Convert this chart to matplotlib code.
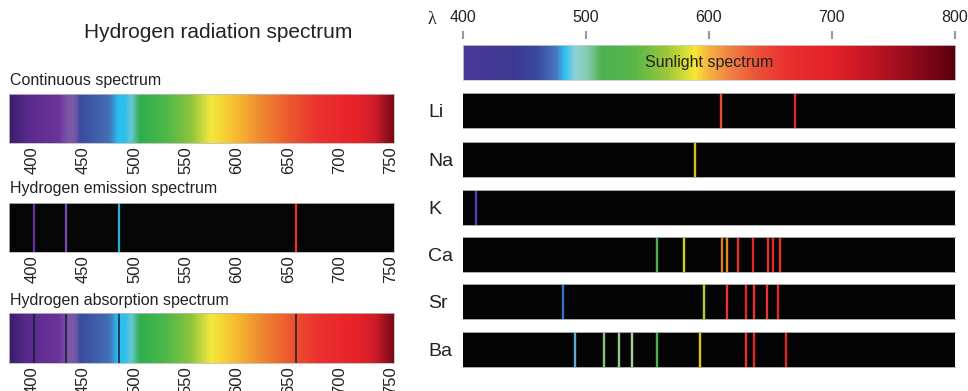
import matplotlib
matplotlib.use("Agg")
import matplotlib.pyplot as plt
from matplotlib.colors import LinearSegmentedColormap
import numpy as np

plt.rcParams['font.family'] = ['Liberation Sans', 'DejaVu Sans']

# ---------------- data ----------------
title_left = "Hydrogen radiation spectrum"
left_labels = ["Continuous spectrum", "Hydrogen emission spectrum", "Hydrogen absorption spectrum"]
left_ticks = [400, 450, 500, 550, 600, 650, 700, 750]
left_range = (378, 753)

# continuous spectrum colour stops (nm, colour)
cont_nm = [378, 395, 425, 436, 442, 447, 475, 484, 491, 497, 505, 530, 555, 575, 588, 602, 622, 650, 680, 718, 735, 753]
cont_col = ["#3a1f6e", "#5a2a8e", "#6b3399", "#7b5aa8", "#7856a6", "#3b4a9e", "#4470b5", "#28c0f0",
            "#30c0ec", "#6ac8d0", "#2fae4f", "#4cb848", "#8cc43f", "#f2e93a", "#f6d034", "#f7b632",
            "#f08c30", "#ec5b2e", "#ea3030", "#e82228", "#d01c28", "#7a0a16"]

# hydrogen lines
h_lines = [402, 433, 485, 657]
h_colors = ["#6a2fa0", "#7a4ab0", "#28b0d0", "#e8302c"]
absorb_color = "#1a1a2a"

# right panel
right_ticks = [400, 500, 600, 700, 800]
right_range = (400, 800)
sun_nm = [400, 440, 460, 475, 482, 490, 500, 512, 540, 565, 588, 600, 620, 640, 665, 700, 730, 760, 800]
sun_col = ["#4a3a9a", "#3c3890", "#3a48a0", "#4a78c0", "#2ec0f0", "#8fd2d6", "#86ccb0", "#4cb050",
           "#5ab848", "#9cc63c", "#f6e834", "#f4b040", "#ee7a44", "#ec5038", "#e83030", "#e22228",
           "#c41624", "#9a0c1c", "#5a0010"]

elements = ["Li", "Na", "K", "Ca", "Sr", "Ba"]
li_nm = [610, 670]
li_col = ["#e8502a", "#d82a2a"]
na_nm = [589]
na_col = ["#d4c020"]
k_nm = [411]
k_col = ["#4a40b8"]
ca_nm = [558, 580, 611, 615, 624, 636, 648, 652.5, 658]
ca_col = ["#4caf50", "#c8d020", "#e07a20", "#e08a24", "#e83030", "#e02828", "#e83030", "#e02828", "#e83030"]
sr_nm = [482, 596.5, 614.5, 630.5, 637, 647, 656]
sr_col = ["#3a70c0", "#c0c830", "#f03030", "#e02828", "#e83030", "#f03030", "#e02828"]
ba_nm = [491, 515, 527, 538, 558, 592.5, 630.5, 637, 662.6]
ba_col = ["#60a8d0", "#88c080", "#90c890", "#a8d098", "#4caf50", "#e0c020", "#e83030", "#e02828", "#d82828"]
elem_lines = [(li_nm, li_col), (na_nm, na_col), (k_nm, k_col), (ca_nm, ca_col), (sr_nm, sr_col), (ba_nm, ba_col)]

# ---------------- layout ----------------
W, H = 968, 391
fig = plt.figure(figsize=(W / 100, H / 100), dpi=100)
fig.patch.set_facecolor("white")


def rect(x0, y0, x1, y1):
    return [x0 / W, 1 - y1 / H, (x1 - x0) / W, (y1 - y0) / H]


def make_cmap(nm, cols, lo, hi):
    pos = [(v - lo) / (hi - lo) for v in nm]
    return LinearSegmentedColormap.from_list("c", list(zip(pos, cols)))


def gradient(ax, nm, cols, lo, hi):
    cmap = make_cmap(nm, cols, lo, hi)
    grad = np.linspace(0, 1, 600).reshape(1, -1)
    ax.imshow(grad, aspect="auto", cmap=cmap, extent=(lo, hi, 0, 1), interpolation="bilinear")
    ax.set_xlim(lo, hi)
    ax.set_ylim(0, 1)


TXT = "#222222"

# Left title
fig.text(218 / W, 1 - 33 / H, title_left, ha="center", va="center", fontsize=15, color=TXT)

left_y = [(94, 143), (203, 252), (313, 363)]
label_y = [81, 188, 300]
for i, (y0, y1) in enumerate(left_y):
    ax = fig.add_axes(rect(9.3, y0, 394, y1))
    lo, hi = left_range
    if i == 0:
        gradient(ax, cont_nm, cont_col, lo, hi)
    elif i == 1:
        ax.set_facecolor("#050505")
        ax.set_xlim(lo, hi)
        ax.set_ylim(0, 1)
        ax.vlines(h_lines, 0, 1, colors=h_colors, lw=1.6)
    else:
        gradient(ax, cont_nm, cont_col, lo, hi)
        ax.vlines(h_lines, 0, 1, colors=absorb_color, lw=1.3, alpha=0.85)
    ax.set_yticks([])
    ax.set_xticks(left_ticks)
    ax.set_xticklabels([str(t) for t in left_ticks], rotation=90, fontsize=12, color=TXT)
    ax.tick_params(axis="x", length=0, pad=2)
    for s in ax.spines.values():
        s.set_color("#bbbbbb")
        s.set_linewidth(0.6)
    fig.text(10 / W, 1 - label_y[i] / H, left_labels[i], ha="left", va="center", fontsize=11.5, color=TXT)

# Right panel: scale
RX0, RX1 = 462.5, 955
tax = fig.add_axes(rect(RX0, 39, RX1, 40))
tax.set_xlim(*right_range)
tax.set_ylim(0, 1)
tax.set_yticks([])
for s in tax.spines.values():
    s.set_visible(False)
tax.xaxis.set_ticks_position("top")
tax.xaxis.set_label_position("top")
tax.set_xticks(right_ticks)
tax.set_xticklabels([str(t) for t in right_ticks], fontsize=11.5, color=TXT)
tax.tick_params(axis="x", direction="out", length=5.8, width=1.5, color="#999999", pad=4.5)
tax.patch.set_visible(False)
fig.text(432 / W, 1 - 20 / H, "λ", ha="center", va="center", fontsize=13, color=TXT,
         family=["Liberation Serif", "DejaVu Serif"])

# sunlight spectrum
sax = fig.add_axes(rect(RX0, 45, RX1, 80))
gradient(sax, sun_nm, sun_col, *right_range)
sax.set_xticks([])
sax.set_yticks([])
for s in sax.spines.values():
    s.set_color("#cccccc")
    s.set_linewidth(0.6)
sax.text(600, 0.5, "Sunlight spectrum", ha="center", va="center", fontsize=11.5, color=TXT)

row_tops = [93, 142, 190, 237, 284, 332]
for name, top, (nm, cols) in zip(elements, row_tops, elem_lines):
    ax = fig.add_axes(rect(RX0, top, RX1, top + 35))
    ax.set_facecolor("#040404")
    ax.set_xlim(*right_range)
    ax.set_ylim(0, 1)
    ax.vlines(nm, 0, 1, colors=cols, lw=1.7)
    ax.set_xticks([])
    ax.set_yticks([])
    for s in ax.spines.values():
        s.set_color("#aaaaaa")
        s.set_linewidth(0.7)
    ax.spines["left"].set_visible(False)
    ax.spines["right"].set_visible(False)
    fig.text(428 / W, 1 - (top + 19.5) / H, name, ha="left", va="center", fontsize=14, color=TXT)

fig.savefig("out.png", dpi=100, facecolor="white")
